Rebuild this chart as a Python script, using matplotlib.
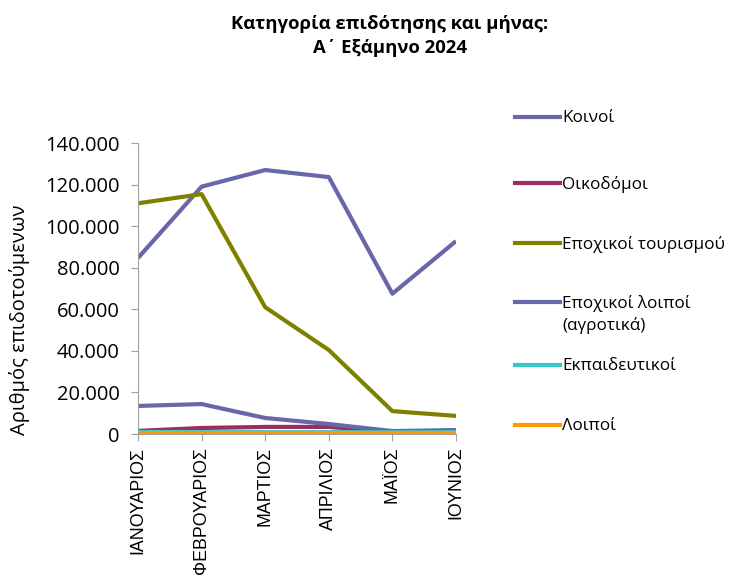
import matplotlib

matplotlib.use("Agg")
import matplotlib.pyplot as plt
from matplotlib.ticker import FuncFormatter

plt.rcParams["font.family"] = ["Open Sans", "DejaVu Sans"]

MONTHS = ["ΙΑΝΟΥΑΡΙΟΣ", "ΦΕΒΡΟΥΑΡΙΟΣ", "ΜΑΡΤΙΟΣ", "ΑΠΡΙΛΙΟΣ", "ΜΑΪΟΣ", "ΙΟΥΝΙΟΣ"]

koinoi = [84700, 119000, 127000, 123600, 67500, 92800]
oikodomoi = [1500, 2900, 3400, 3400, 1000, 1500]
tourismou = [111000, 115400, 61000, 40400, 11000, 8700]
loipoi_agrotika = [13500, 14400, 7700, 4800, 1400, 1900]
ekpaideftikoi = [1000, 900, 900, 900, 800, 900]
loipoi = [300, 300, 300, 300, 300, 300]

SERIES = [
    ("Κοινοί", koinoi, "#6767a9"),
    ("Οικοδόμοι", oikodomoi, "#9b2d5f"),
    ("Εποχικοί τουρισμού", tourismou, "#808000"),
    ("Εποχικοί λοιποί\n(αγροτικά)", loipoi_agrotika, "#6767a9"),
    ("Εκπαιδευτικοί", ekpaideftikoi, "#33c9c9"),
    ("Λοιποί", loipoi, "#ff9900"),
]

fig = plt.figure(figsize=(7.3, 5.8), dpi=100)
ax = fig.add_axes([138 / 730, 1 - 434 / 580, (456 - 138) / 730, (434 - 143) / 580])

x = range(len(MONTHS))
for label, values, color in SERIES:
    ax.plot(x, values, color=color, lw=3.0, solid_capstyle="butt", label=label)

ax.set_xlim(0, len(MONTHS) - 1)
ax.set_ylim(0, 140000)
ax.set_yticks(range(0, 140001, 20000))
ax.yaxis.set_major_formatter(FuncFormatter(lambda v, _: f"{int(v):,}".replace(",", ".")))
ax.set_xticks(list(x))
ax.set_xticklabels(MONTHS, rotation=90, fontsize=12.8, family=["Liberation Sans", "DejaVu Sans"])
ax.tick_params(axis="y", labelsize=14.5, length=5, color="#a0a0a0", pad=8)
ax.tick_params(axis="x", length=5, color="#a0a0a0", pad=4)

for side in ("top", "right"):
    ax.spines[side].set_visible(False)
for side in ("left", "bottom"):
    ax.spines[side].set_color("#a0a0a0")

fig.text(20 / 730, 1 - 320 / 580, "Αριθμός επιδοτούμενων", rotation=90,
         ha="center", va="center", fontsize=14.5)

fig.text(390 / 730, 1 - 36 / 580, "Κατηγορία επιδότησης και μήνας:\nΑ΄ Εξάμηνο 2024",
         ha="center", va="center", fontsize=13.3, fontweight="bold", linespacing=1.45)

# legend drawn as a hand-placed column to keep the uneven spacing
legend_y = [117, 183, 243, 302, 365, 425]
for (label, _, color), ly in zip(SERIES, legend_y):
    yf = 1 - ly / 580
    fig.add_artist(plt.Line2D([515 / 730, 560 / 730], [yf, yf], color=color, lw=3.0,
                              transform=fig.transFigure))
    fig.text(562 / 730, yf + 7 / 580, label, ha="left", va="top", fontsize=12.3,
             linespacing=1.4)

fig.savefig("out.png", dpi=100)
